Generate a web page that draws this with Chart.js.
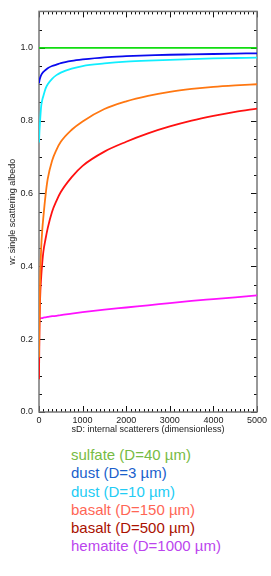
<!DOCTYPE html>
<html>
<head>
<meta charset="utf-8">
<script src="https://cdn.jsdelivr.net/npm/chart.js@4/dist/chart.umd.min.js"></script>
<style>
  body { margin: 0; background: #fff; width: 271px; height: 576px; overflow: hidden; position: relative; }
  #chart { position: absolute; left: 0; top: 0; }
  #legend { position: absolute; left: 71px; top: 446px; font: 15px "Liberation Sans", Arial, sans-serif; line-height: 18.3px; }
</style>
</head>
<body>
<canvas id="chart" width="271" height="440"></canvas>
<div id="legend"></div>
<script>
// internal scatterers sD (x) and single scattering albedo w (y)
const sD = [0, 10, 25, 50, 75, 100, 150, 200, 300, 400, 500, 750, 1000, 1500, 2000, 2500, 3000, 3500, 4000, 4500, 5000];
const sulfate40 = [1, 1, 1, 1, 1, 1, 1, 1, 1, 1, 1, 1, 1, 1, 1, 1, 1, 1, 1, 1, 1];
const dust3 = [0.903, 0.91, 0.917, 0.925, 0.93, 0.934, 0.939, 0.944, 0.95, 0.954, 0.958, 0.964, 0.968, 0.974, 0.977, 0.979, 0.981, 0.982, 0.983, 0.984, 0.985];
const dust10 = [0.74, 0.77, 0.80, 0.84, 0.857, 0.868, 0.888, 0.90, 0.915, 0.925, 0.932, 0.943, 0.95, 0.957, 0.962, 0.965, 0.967, 0.969, 0.971, 0.972, 0.973];
const basalt150 = [0.15, 0.25, 0.36, 0.45, 0.50, 0.535, 0.595, 0.64, 0.69, 0.72, 0.742, 0.775, 0.798, 0.832, 0.853, 0.868, 0.879, 0.887, 0.893, 0.897, 0.90];
const basalt500 = [0.09, 0.22, 0.31, 0.37, 0.41, 0.44, 0.475, 0.505, 0.55, 0.58, 0.604, 0.645, 0.676, 0.715, 0.742, 0.765, 0.784, 0.8, 0.813, 0.824, 0.833];
const hematite1000 = [0.25, 0.256, 0.257, 0.258, 0.258, 0.259, 0.26, 0.261, 0.263, 0.264, 0.266, 0.27, 0.274, 0.281, 0.287, 0.293, 0.299, 0.305, 0.31, 0.315, 0.32];

const seriesNames = ['sulfate (D=40 µm)', 'dust (D=3 µm)', 'dust (D=10 µm)', 'basalt (D=150 µm)', 'basalt (D=500 µm)', 'hematite (D=1000 µm)'];
const seriesValues = [sulfate40, dust3, dust10, basalt150, basalt500, hematite1000];
const lineColors = ['#11dd11', '#0a0aee', '#11eeff', '#ff7711', '#ff1111', '#ff11ff'];
const legendColors = ['#77bb44', '#1a5fcc', '#22ccf5', '#ff6655', '#aa1100', '#bb44ee'];

const xTicks = [0, 1000, 2000, 3000, 4000, 5000];
const yTicks = [0, 0.2, 0.4, 0.6, 0.8, 1.0];

const FONT = '"Liberation Sans", Arial, sans-serif';

// frame + inward minor/major ticks on all four sides
const frameTicks = {
  id: 'frameTicks',
  beforeDatasetsDraw(chart) {
    const { ctx, chartArea: a, scales: { x, y } } = chart;
    ctx.save();
    ctx.strokeStyle = '#111';
    ctx.lineWidth = 1;
    ctx.beginPath();
    for (let i = 0; i <= 50; i += 1) {
      const px = Math.round(x.getPixelForValue(i * 100)) + 0.5;
      const len = i % 10 === 0 ? 6 : 3;
      ctx.moveTo(px, a.bottom); ctx.lineTo(px, a.bottom - len);
      ctx.moveTo(px, a.top); ctx.lineTo(px, a.top + len);
    }
    for (let i = 0; i <= 22; i += 1) {
      const py = Math.round(y.getPixelForValue(i * 0.05)) + 0.5;
      const len = i % 4 === 0 ? 6 : 3;
      ctx.moveTo(a.left, py); ctx.lineTo(a.left + len, py);
      ctx.moveTo(a.right, py); ctx.lineTo(a.right - len, py);
    }
    ctx.stroke();
    ctx.strokeStyle = '#777';
    ctx.lineWidth = 1.5;
    ctx.strokeRect(a.left, a.top, a.right - a.left, a.bottom - a.top);
    ctx.restore();
  },
};

new Chart(document.getElementById('chart'), {
  type: 'line',
  data: {
    datasets: seriesNames.map((name, i) => ({
      label: name,
      data: sD.map((v, j) => ({ x: v, y: seriesValues[i][j] })),
      borderColor: lineColors[i],
      borderWidth: 1.8,
      pointRadius: 0,
      fill: false,
      cubicInterpolationMode: 'monotone',
    })),
  },
  options: {
    responsive: false,
    animation: false,
    layout: { padding: { top: 10, right: 14, left: 0, bottom: 0 } },
    plugins: { legend: { display: false }, tooltip: { enabled: false } },
    scales: {
      x: {
        type: 'linear', min: 0, max: 5000,
        grid: { display: false, drawTicks: false }, border: { display: false },
        afterBuildTicks: (s) => { s.ticks = xTicks.map((v) => ({ value: v })); },
        afterFit: (s) => { s.height = 28; },
        ticks: { color: '#222', font: { family: FONT, size: 9 }, padding: 3, maxRotation: 0, callback: (v) => String(v) },
        title: { display: true, text: 'sD: internal scatterers (dimensionless)', color: '#222', font: { family: FONT, size: 9 }, padding: { top: 0, bottom: 5 } },
      },
      y: {
        type: 'linear', min: 0, max: 1.1,
        grid: { display: false, drawTicks: false }, border: { display: false },
        afterBuildTicks: (s) => { s.ticks = yTicks.map((v) => ({ value: v })); },
        afterFit: (s) => { s.width = 39; },
        ticks: { color: '#222', font: { family: FONT, size: 9 }, padding: 6, callback: (v) => Number(v).toFixed(1) },
        title: { display: true, text: 'w: single scattering albedo', color: '#222', font: { family: FONT, size: 9 }, padding: { top: 7, bottom: 0 } },
      },
    },
  },
  plugins: [frameTicks],
});

document.getElementById('legend').innerHTML = seriesNames
  .map((name, i) => `<div style="color:${legendColors[i]}">${name}</div>`).join('');
</script>
</body>
</html>
